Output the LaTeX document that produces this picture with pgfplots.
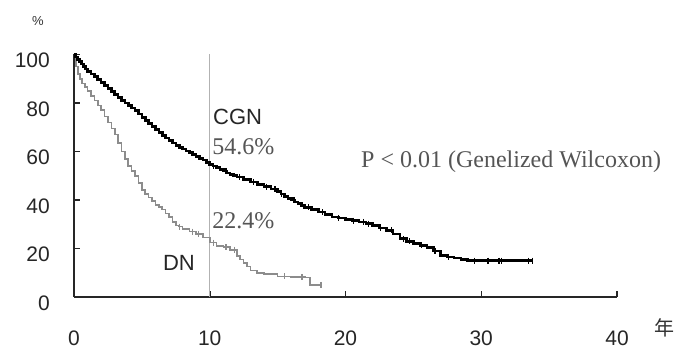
\documentclass[border=0pt]{standalone}
\usepackage{pgfplots}
\pgfplotsset{compat=1.18}
\usepackage{fontspec}
\setmainfont{Liberation Serif}
\newfontfamily\arial{Liberation Sans}
\newfontfamily\cjk{Noto Sans CJK JP}
\definecolor{dngray}{HTML}{8C8C8C}
\definecolor{txtgray}{HTML}{555555}
\begin{document}
\begin{tikzpicture}
\useasboundingbox (-74pt,-56pt) rectangle (601pt,297pt);
\begin{axis}[
  at={(0pt,0pt)}, anchor=origin,
  scale only axis, width=543pt, height=242.5pt,
  xmin=0, xmax=40, ymin=0, ymax=100,
  axis x line=bottom, axis y line=left,
  axis line style={-, line width=2pt, black!85},
  xtick={0,10,20,30,40}, ytick={0,20,40,60,80,100},
  tick align=inside, major tick length=6pt,
  tick style={line width=1.5pt, black!85},
  /pgf/number format/assume math mode=true,
  xticklabel style={font=\fontsize{21}{24}\selectfont\arial, anchor=center, yshift=-41pt, text=black!85},
  yticklabel style={font=\fontsize{21}{24}\selectfont\arial, anchor=east, inner sep=0pt, xshift=-24pt, yshift=-6pt, text=black!85},
  clip=false,
]
% reference line at 10 years
\addplot[line width=0.6pt, black!30] coordinates {(10,0) (10,100)};
% DN curve
\addplot[const plot, line width=1.6pt, dngray] coordinates {
(0,100) (0.15,95) (0.3,92) (0.45,90) (0.6,88) (0.8,86.5) (1,85) (1.25,83)
(1.5,81) (1.75,79) (2,77) (2.25,74.5) (2.5,72) (2.75,69.5) (3,67) (3.25,63.5)
(3.5,60) (3.75,57) (4,54) (4.25,52) (4.5,50) (4.75,47) (5,44) (5.25,42.5)
(5.5,41) (5.75,39.5) (6,38) (6.25,37) (6.5,36) (6.75,34.5) (7,33) (7.25,31)
(7.5,29.5) (7.75,29) (8,28) (8.5,27) (9,26) (9.5,24.5) (10,22.4) (10.5,21)
(11,20.5) (11.5,19.5) (12,17) (12.25,15.5) (12.5,14) (12.75,12.5) (13,11)
(13.5,10) (14,9.5) (15,8.5) (16,8.3) (17,8) (17.4,5) (18.2,5)};
\addplot[only marks, mark=|, mark size=3pt, dngray, mark options={line width=1.2pt}] coordinates {
(7.8,29) (8.7,27) (9.2,26) (10.3,22.4) (11.2,20.5) (11.8,19.5) (15.5,8.5) (16.8,8.3) (18.2,5)};
% CGN curve
\addplot[const plot, line width=2.6pt, black] coordinates {
(0,100) (0.1,99) (0.25,98) (0.4,97) (0.55,96) (0.7,95) (0.85,94) (1,93)
(1.25,92) (1.5,91) (1.75,89.7) (2,88.5) (2.25,87.3) (2.5,86) (2.75,84.8)
(3,83.5) (3.25,82.3) (3.5,81) (3.75,80) (4,79) (4.25,78) (4.5,77) (4.75,75.5)
(5,74) (5.25,72.8) (5.5,71.5) (5.75,70.3) (6,69) (6.25,67.8) (6.5,66.5)
(6.75,65.5) (7,64.5) (7.25,63.5) (7.5,62.5) (7.75,61.7) (8,61) (8.25,60.2)
(8.5,59.5) (8.75,58.7) (9,58) (9.25,57.2) (9.5,56.5) (9.75,55.5) (10,54.6)
(10.25,54) (10.5,53.5) (10.75,52.7) (11,52) (11.25,51.2) (11.5,50.5)
(11.75,50) (12,49.5) (12.5,48.5) (13,47.5) (13.5,46.5) (14,45.5) (14.5,44.5)
(15,43.5) (15.25,42.5) (15.5,41.5) (15.75,40.7) (16,40) (16.25,39.2)
(16.5,38.5) (16.75,37.7) (17,37) (17.5,36) (18,35) (18.5,34) (19,33)
(19.5,32.5) (20,32) (20.5,31.5) (21,31) (21.5,30.3) (22,29.5) (22.5,28.5)
(23,27.5) (23.5,26) (24,24) (24.5,23) (25,22) (25.5,21.3) (26,20.5)
(26.5,19) (27,17) (27.5,16.5) (28,16) (28.5,15.5) (29,15) (33.8,15)};
\addplot[only marks, mark=|, mark size=3pt, black, mark options={line width=1.2pt}] coordinates {
(10.3,54) (11.2,52) (12.2,49.5) (13.2,47.5) (14.2,45.5) (14.8,44.5)
(15.3,42.5) (16.2,40) (17.3,37) (18.3,35) (19.5,32.5) (20.6,31.5) (21.3,31)
(21.7,30.3) (22.6,28.5) (23.4,27.5) (24.3,24) (24.7,23) (25.6,21.3) (26.6,19)
(27.6,16.5) (29.5,15) (30.5,15) (31.3,15) (31.5,15) (33.5,15) (33.8,15)};
% annotations
\node[anchor=west, inner sep=0pt, font=\fontsize{22}{24}\selectfont\arial, text=black!85] at (axis cs:10.24,74.4) {CGN};
\node[anchor=west, inner sep=0pt, font=\fontsize{24}{26}\selectfont, text=txtgray] at (axis cs:10.17,62) {54.6\%};
\node[anchor=west, inner sep=0pt, font=\fontsize{24}{26}\selectfont, text=txtgray] at (axis cs:10.17,31.4) {22.4\%};
\node[anchor=center, inner sep=0pt, font=\fontsize{22}{24}\selectfont\arial, text=black!85] at (axis cs:7.73,14) {DN};
\node[anchor=center, inner sep=0pt, font=\fontsize{24}{26}\selectfont, text=txtgray] at (axis cs:32.2,55.8) {P < 0.01 (Genelized Wilcoxon)};
\node[anchor=center, inner sep=0pt, font=\fontsize{13}{14}\selectfont\arial, text=black!80] at (axis cs:-2.65,114) {\%};
\node[anchor=center, inner sep=0pt, font=\fontsize{20}{22}\selectfont\cjk, text=black!80] at (axis cs:43.5,-12.8) {年};
\end{axis}
\end{tikzpicture}
\end{document}
